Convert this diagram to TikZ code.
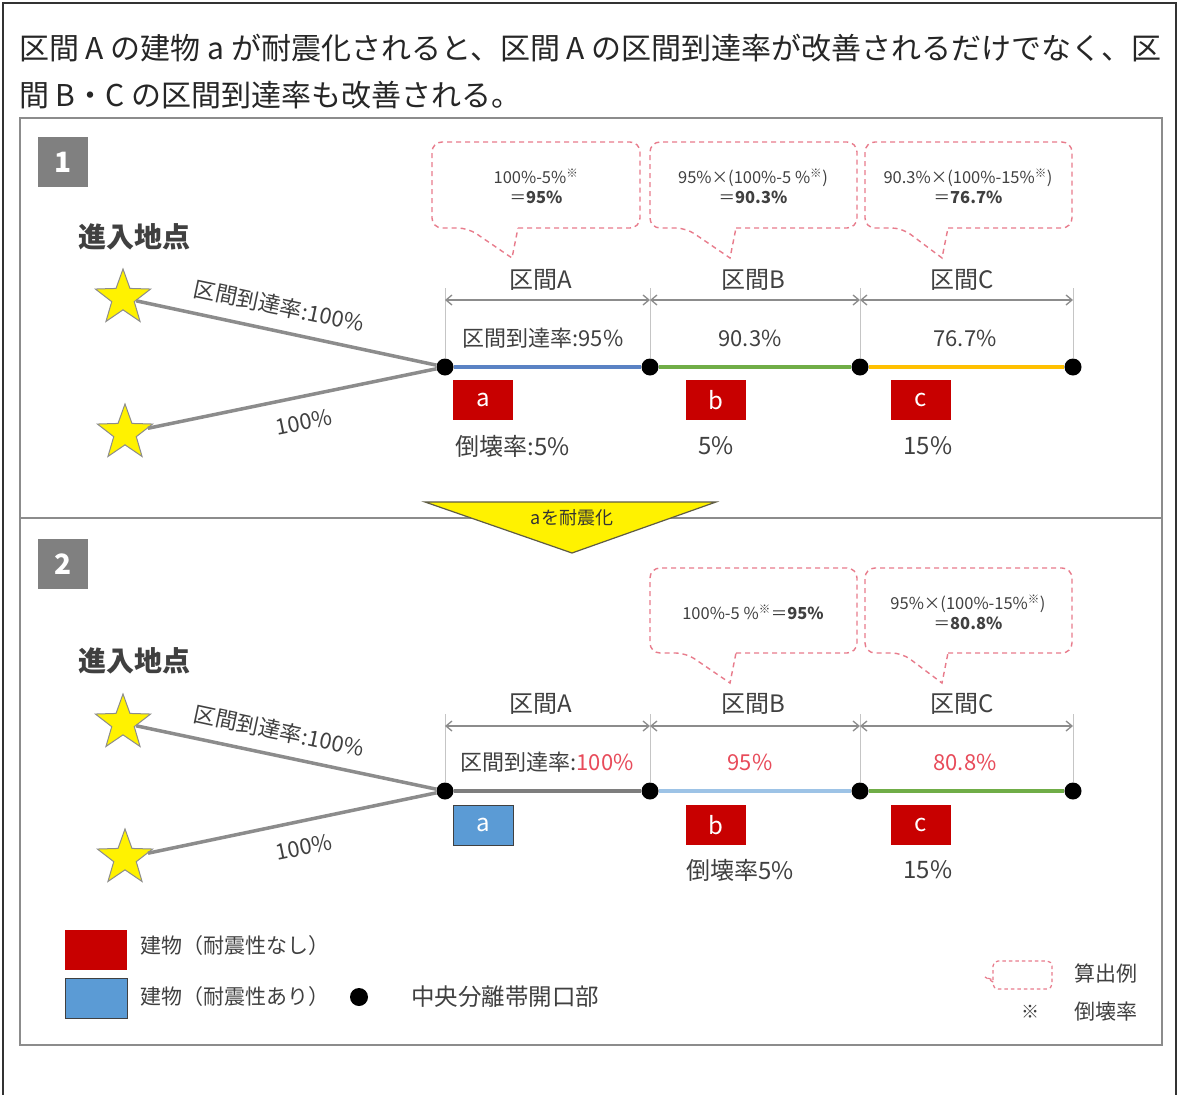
\documentclass[tikz,border=0pt]{standalone}
\usepackage{fontspec}
\setmainfont{Noto Sans CJK JP}
\usetikzlibrary{shapes.geometric,arrows.meta}
\definecolor{txt}{HTML}{404040}
\definecolor{bred}{HTML}{C80000}
\definecolor{bblue}{HTML}{5B9BD5}
\definecolor{frame}{HTML}{8C8C8C}
\definecolor{segblue}{HTML}{5A82C4}
\definecolor{seggreen}{HTML}{70AD47}
\definecolor{seggold}{HTML}{FFC000}
\definecolor{seglblue}{HTML}{9DC3E6}
\definecolor{coline}{HTML}{E87C8C}
\definecolor{rtxt}{HTML}{E84B5A}
\definecolor{numbox}{HTML}{808080}
\newcommand\mycallout[8]{%
  \draw[callout] (#6,#4) [rounded corners=10] -- (#3,#4) -- (#3,#2) -- (#1,#2) -- (#1,#4) -- (#5,#4) [sharp corners] -- (#7,#8) -- cycle;}
\begin{document}
\begin{tikzpicture}[x=1pt,y=-1pt,
  fs/.style={font=\fontsize{#1}{#1}\selectfont},
  lbl/.style={text=txt, inner sep=0, fs=#1},
  lbl/.default=22,
  bldg/.style={fill=bred, minimum width=60, minimum height=40, inner sep=0, text=white, fs=24},
  bldgok/.style={fill=bblue, draw=txt, line width=0.8, minimum width=60, minimum height=40, inner sep=0, text=white, fs=24},
  dot/.style={circle, fill=black, minimum size=17, inner sep=0},
  starn/.style={star, star points=5, star point ratio=2.45, minimum size=58, inner sep=0, fill=yellow, draw=frame, line width=1},
  link/.style={draw=frame, line width=3.5},
  seg/.style={line width=3.5},
  dim/.style={draw=frame, line width=1.3, {Straight Barb[length=6,width=10]}-{Straight Barb[length=6,width=10]}},
  ext/.style={draw=frame!50, line width=0.6},
  callout/.style={draw=coline, line width=1.4, dash pattern=on 5pt off 4pt},
  cotext/.style={text=txt, inner sep=0, fs=16.5, align=center},
  numsq/.style={fill=numbox, minimum size=50, inner sep=0, text=white, font=\fontsize{28}{28}\selectfont\bfseries},
]
\useasboundingbox (0,0) rectangle (1179,1095);
\fill[white] (0,0) rectangle (1179,1095);
% outer border
\draw[line width=1.5, draw=black!80] (3,1095) -- (3,3) -- (1176,3) -- (1176,1095);
% heading
\node[anchor=west, inner sep=0, text=black!85, fs=30] (h1) at (19,48) {区間 A の建物 a が耐震化されると、区間 A の区間到達率が改善されるだけでなく、区};
\node[anchor=west, inner sep=0, text=black!85, fs=30] (h2) at (19,95) {間 B・C の区間到達率も改善される。};
% inner frame
\draw[draw=frame, line width=2] (20,118) rectangle (1162,1045);
\draw[draw=frame, line width=1.5] (20,518) -- (1162,518);

%%%%%%%%%%%% PANEL 1
\node[numsq] (p1) at (63,162) {1};
\node[lbl=28, font=\fontsize{28}{28}\selectfont\bfseries] (in1) at (134,237) {進入地点};
\node[starn] (s11) at (123,298) {};
\node[starn] (s12) at (125,433) {};
\node[dot] (n11) at (445,367) {};
\node[dot] (n12) at (650,367) {};
\node[dot] (n13) at (860,367) {};
\node[dot] (n14) at (1073,367) {};
\draw[link] (s11) -- (n11);
\draw[link] (s12) -- (n11);
\node[lbl=22, rotate=-12] (r11) at (279,306) {区間到達率:100\%};
\node[lbl=22, rotate=11.5] (r12) at (304,422) {100\%};
\draw[seg, draw=segblue] (n11) -- (n12);
\draw[seg, draw=seggreen] (n12) -- (n13);
\draw[seg, draw=seggold] (n13) -- (n14);
% extension + dimension
\coordinate (e11) at (445,288); \coordinate (e12) at (650,288);
\coordinate (e13) at (860,288); \coordinate (e14) at (1073,288);
\draw[ext] (e11) -- (n11); \draw[ext] (e12) -- (n12);
\draw[ext] (e13) -- (n13); \draw[ext] (e14) -- (n14);
\coordinate (d11) at (445,300); \coordinate (d12) at (650,300);
\coordinate (d13) at (860,300); \coordinate (d14) at (1073,300);
\draw[dim] (d11) -- (d12);
\draw[dim] (d12) -- (d13);
\draw[dim] (d13) -- (d14);
\node[lbl=24] (k1a) at (541,280) {区間A};
\node[lbl=24] (k1b) at (753,280) {区間B};
\node[lbl=24] (k1c) at (962,280) {区間C};
\node[lbl=22] (v1a) at (543,338) {区間到達率:95\%};
\node[lbl=22] (v1b) at (750,338) {90.3\%};
\node[lbl=22] (v1c) at (965,338) {76.7\%};
\node[bldg] (b1a) at (483,400) {a};
\node[bldg] (b1b) at (716,400) {b};
\node[bldg] (b1c) at (921,400) {c};
\node[lbl=24] (c1a) at (513,446) {倒壊率:5\%};
\node[lbl=24] (c1b) at (716,446) {5\%};
\node[lbl=24] (c1c) at (928,446) {15\%};
% callouts
\mycallout{432}{142}{640}{228}{468}{518}{512}{258}
\node[cotext] (q1a) at (536,186) {100\%-5\%\textsuperscript{※}\\[3pt]＝{\bfseries 95\%}};
\mycallout{650}{142}{857}{228}{686}{736}{730}{258}
\node[cotext] (q1b) at (753,186) {95\%×(100\%-5 \%\textsuperscript{※})\\[3pt]＝{\bfseries 90.3\%}};
\mycallout{865}{142}{1072}{228}{902}{948}{942}{258}
\node[cotext] (q1c) at (968,186) {90.3\%×(100\%-15\%\textsuperscript{※})\\[3pt]＝{\bfseries 76.7\%}};

%%%%%%%%%%%% arrow between panels
\draw[fill=yellow, draw=black!60!yellow!70!black, line width=1.2] (425,502) -- (716,502) -- (572,553) -- cycle;
\node[inner sep=0, text=black!80, fs=18] (arrtxt) at (572,518) {aを耐震化};

%%%%%%%%%%%% PANEL 2
\node[numsq] (p2) at (63,564) {2};
\node[lbl=28, font=\fontsize{28}{28}\selectfont\bfseries] (in2) at (134,661) {進入地点};
\node[starn] (s21) at (123,723) {};
\node[starn] (s22) at (125,858) {};
\node[dot] (n21) at (445,791) {};
\node[dot] (n22) at (650,791) {};
\node[dot] (n23) at (860,791) {};
\node[dot] (n24) at (1073,791) {};
\draw[link] (s21) -- (n21);
\draw[link] (s22) -- (n21);
\node[lbl=22, rotate=-12] (r21) at (279,731) {区間到達率:100\%};
\node[lbl=22, rotate=11.5] (r22) at (304,847) {100\%};
\draw[seg, draw=frame!90!black] (n21) -- (n22);
\draw[seg, draw=seglblue] (n22) -- (n23);
\draw[seg, draw=seggreen] (n23) -- (n24);
\coordinate (e21) at (445,714); \coordinate (e22) at (650,714);
\coordinate (e23) at (860,714); \coordinate (e24) at (1073,714);
\draw[ext] (e21) -- (n21); \draw[ext] (e22) -- (n22);
\draw[ext] (e23) -- (n23); \draw[ext] (e24) -- (n24);
\coordinate (d21) at (445,726); \coordinate (d22) at (650,726);
\coordinate (d23) at (860,726); \coordinate (d24) at (1073,726);
\draw[dim] (d21) -- (d22);
\draw[dim] (d22) -- (d23);
\draw[dim] (d23) -- (d24);
\node[lbl=24] (k2a) at (541,704) {区間A};
\node[lbl=24] (k2b) at (753,704) {区間B};
\node[lbl=24] (k2c) at (962,704) {区間C};
\node[lbl=22] (v2a) at (547,762) {区間到達率:\textcolor{rtxt}{100\%}};
\node[lbl=22, text=rtxt] (v2b) at (750,762) {95\%};
\node[lbl=22, text=rtxt] (v2c) at (965,762) {80.8\%};
\node[bldgok] (b2a) at (483,825) {a};
\node[bldg] (b2b) at (716,825) {b};
\node[bldg] (b2c) at (921,825) {c};
\node[lbl=24] (c2b) at (740,870) {倒壊率5\%};
\node[lbl=24] (c2c) at (928,870) {15\%};
\mycallout{650}{568}{857}{653}{686}{736}{730}{683}
\node[cotext] (q2b) at (753,612) {100\%-5 \%\textsuperscript{※}＝{\bfseries 95\%}};
\mycallout{865}{568}{1072}{653}{902}{948}{942}{683}
\node[cotext] (q2c) at (968,612) {95\%×(100\%-15\%\textsuperscript{※})\\[3pt]＝{\bfseries 80.8\%}};

%%%%%%%%%%%% LEGEND
\node[bldg, minimum width=62] (lg1) at (96,950) {};
\node[lbl=21, anchor=west] (lg1t) at (140,946) {建物（耐震性なし）};
\node[bldgok, minimum width=62] (lg2) at (96,998) {};
\node[lbl=21, anchor=west] (lg2t) at (140,997) {建物（耐震性あり）};
\node[dot, minimum size=18] (lg3) at (359,997) {};
\node[lbl=23.5, anchor=west] (lg3t) at (411,997) {中央分離帯開口部};
\draw[callout, line width=1.2, dash pattern=on 3.5pt off 3pt] (993,980) [rounded corners=5] -- (993,961) -- (1052,961) -- (1052,989) -- (993,989) [sharp corners] -- (993,982) -- (985,977) -- cycle;
\node[lbl=21, anchor=west] (lg4t) at (1074,973) {算出例};
\node[lbl=18] (lg5) at (1030,1012) {※};
\node[lbl=21, anchor=west] (lg5t) at (1074,1012) {倒壊率};
\end{tikzpicture}
\end{document}
